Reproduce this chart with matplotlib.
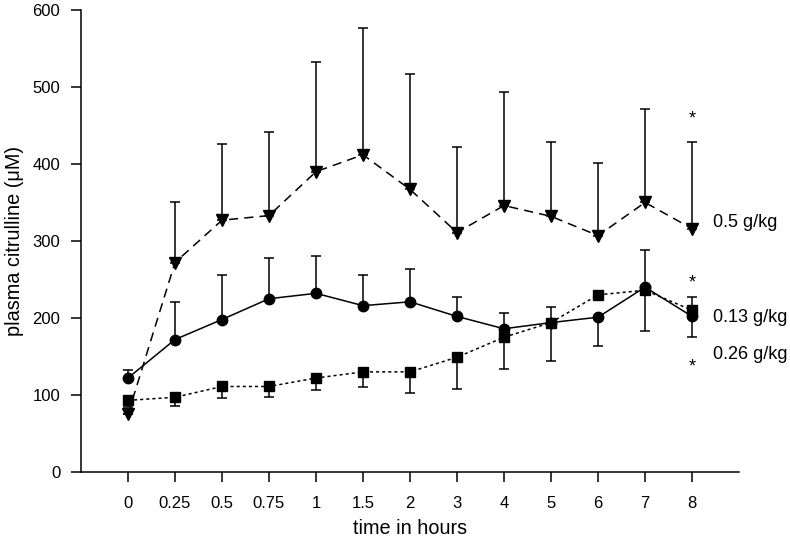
import numpy as np
import matplotlib
matplotlib.use('Agg')
import matplotlib.pyplot as plt

plt.rcParams['font.family'] = ['Liberation Sans', 'DejaVu Sans']

time_labels = ['0', '0.25', '0.5', '0.75', '1', '1.5', '2', '3', '4', '5', '6', '7', '8']

# 0.5 g/kg (triangles, dashed) - mean and top of error bar
dose_high = [75, 272, 327, 333, 390, 412, 367, 311, 346, 332, 307, 350, 316]
dose_high_top = [75, 351, 426, 441, 532, 577, 517, 422, 493, 428, 401, 471, 428]

# 0.13 g/kg (circles, solid)
dose_low = [122, 172, 198, 225, 232, 216, 221, 202, 186, 194, 201, 240, 202]
dose_low_top = [133, 221, 256, 278, 280, 256, 263, 227, 207, 214, 201, 288, 202]
dose_low_bottom = [122, 172, 198, 225, 232, 216, 221, 202, 186, 194, 163, 240, 175]

# 0.26 g/kg (squares, dotted)
dose_mid = [93, 97, 111, 111, 122, 130, 130, 149, 175, 194, 230, 236, 210]
dose_mid_top = [93, 97, 111, 111, 122, 130, 130, 149, 175, 194, 230, 236, 227]
dose_mid_bottom = [85, 86, 96, 97, 107, 110, 103, 108, 134, 144, 230, 183, 210]

# significance stars at 8 h
star_values = [459, 246, 136]

fig = plt.figure(figsize=(7.9, 5.4), dpi=100)
ax = fig.add_axes([0.1025, 0.126, 0.833, 0.8555])

x = np.arange(len(time_labels))

def yerr(mean, top, bottom=None):
    mean = np.array(mean)
    up = np.array(top) - mean
    down = np.zeros_like(mean) if bottom is None else mean - np.array(bottom)
    return [down, up]

ax.errorbar(x, dose_high, yerr=yerr(dose_high, dose_high_top), color='black',
            linestyle=(0, (6, 4)), linewidth=1.1, marker='v', markersize=9,
            capsize=3.5, elinewidth=1.1, capthick=1.1, zorder=3)
ax.errorbar(x, dose_low, yerr=yerr(dose_low, dose_low_top, dose_low_bottom), color='black',
            linestyle='-', linewidth=1.1, marker='o', markersize=7.5,
            capsize=3.5, elinewidth=1.1, capthick=1.1, zorder=3)
ax.errorbar(x, dose_mid, yerr=yerr(dose_mid, dose_mid_top, dose_mid_bottom), color='black',
            linestyle=(0, (2, 2)), linewidth=1.1, marker='s', markersize=7,
            capsize=3.5, elinewidth=1.1, capthick=1.1, zorder=3)

for v in star_values:
    ax.text(x[-1], v, '*', ha='center', va='center', fontsize=13)

ax.text(12.45, 324, '0.5 g/kg', ha='left', va='center', fontsize=13)
ax.text(12.45, 200, '0.13 g/kg', ha='left', va='center', fontsize=13)
ax.text(12.45, 153, '0.26 g/kg', ha='left', va='center', fontsize=13)

ax.set_xlim(-1, 13)
ax.set_ylim(0, 600)
ax.set_xticks(x)
ax.set_xticklabels(time_labels)
ax.set_yticks(range(0, 601, 100))
ax.tick_params(labelsize=12, length=7, width=1.1, pad=8)
ax.tick_params(axis='x', pad=10)

for side in ['top', 'right']:
    ax.spines[side].set_visible(False)
for side in ['left', 'bottom']:
    ax.spines[side].set_linewidth(1.1)

ax.set_xlabel('time in hours', fontsize=14.3, labelpad=6)
ax.set_ylabel('plasma citrulline (\u03bcM)', fontsize=14.3, labelpad=6)

fig.savefig('out.png', dpi=100)
